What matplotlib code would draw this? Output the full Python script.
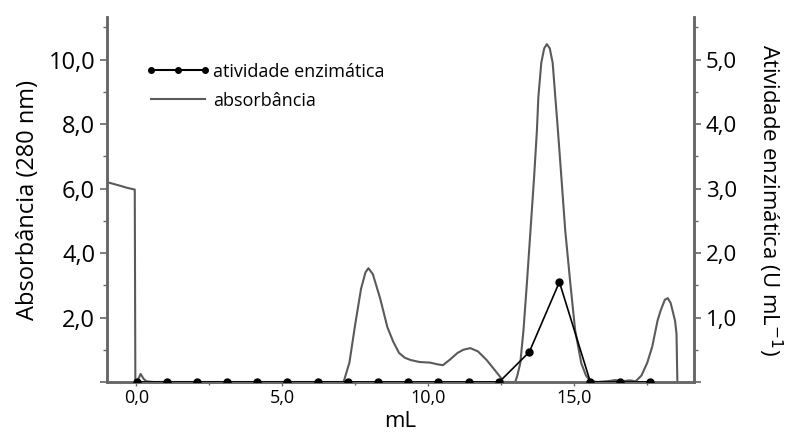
import matplotlib.pyplot as plt
from matplotlib.ticker import FuncFormatter, MultipleLocator
from matplotlib.lines import Line2D

plt.rcParams['font.family'] = ['Open Sans', 'DejaVu Sans']

# absorbance trace (mL, A280)
abs_ml = [-1.0, -0.6, -0.3, -0.05, -0.03, 0.05, 0.15, 0.25, 0.35, 0.6,
          7.1, 7.3, 7.5, 7.7, 7.85, 7.95, 8.1, 8.35, 8.6, 8.8, 9.0, 9.2, 9.4,
          9.7, 10.07, 10.3, 10.5, 10.75, 11.0, 11.2, 11.44, 11.7, 12.0, 12.25,
          12.47, 12.57, 12.98, 13.05, 13.15, 13.26, 13.38, 13.5, 13.62, 13.72,
          13.77, 13.87, 13.97, 14.06, 14.16, 14.26, 14.35, 14.44, 14.57, 14.69,
          14.86, 15.03, 15.24, 15.4, 15.55, 15.8,
          16.2, 16.4, 16.6, 16.9, 17.1, 17.3, 17.5, 17.67, 17.85, 17.95, 18.1,
          18.2, 18.3, 18.45, 18.5, 18.53]
abs_val = [6.2, 6.1, 6.02, 5.97, 0.0, 0.05, 0.25, 0.1, 0.02, 0.0,
           0.0, 0.6, 1.8, 2.9, 3.4, 3.53, 3.35, 2.6, 1.7, 1.25, 0.9, 0.75, 0.68,
           0.62, 0.6, 0.55, 0.52, 0.7, 0.9, 1.0, 1.05, 0.95, 0.68, 0.4,
           0.15, 0.0, 0.0, 0.2, 0.58, 1.6, 3.1, 4.7, 6.3, 7.8,
           8.84, 9.9, 10.35, 10.48, 10.35, 9.9, 8.84, 7.8, 6.2, 4.7,
           3.1, 1.6, 0.58, 0.2, 0.03, 0.0,
           0.03, 0.06, 0.02, 0.05, 0.02, 0.2, 0.6, 1.1, 1.9, 2.2, 2.55,
           2.6, 2.45, 1.9, 1.5, 0.0]

# enzyme activity fractions (mL, U/mL)
act_ml = [0.03, 1.06, 2.09, 3.12, 4.14, 5.17, 6.23, 7.26, 8.29, 9.32,
          10.34, 11.4, 12.43, 13.46, 14.49, 15.55, 16.58, 17.6]
act_val = [0, 0, 0, 0, 0, 0, 0, 0, 0, 0, 0, 0, 0, 0.465, 1.55, 0, 0, 0]

fig = plt.figure(figsize=(7.91, 4.38), dpi=100)
ax = fig.add_axes([0.1353, 0.1279, 0.8774 - 0.1353, 0.961 - 0.1279])
ax2 = ax.twinx()

spine_c = '#666666'
ax.plot(abs_ml, abs_val, color='#5a5a5a', lw=1.5, zorder=2)
ax2.plot(act_ml, act_val, color='black', lw=1.2, marker='o', ms=5, zorder=3)

ax.set_xlim(-1.0, 19.1)
ax.set_ylim(0, 11.32)
ax2.set_ylim(0, 5.66)


def fmt_comma(v, p):
    return f"{v:.1f}".replace('.', ',')


def fmt_no_zero(v, p):
    return '' if v == 0 else fmt_comma(v, p)


ax.xaxis.set_major_locator(MultipleLocator(5))
ax.xaxis.set_minor_locator(MultipleLocator(2.5))
ax.yaxis.set_major_locator(MultipleLocator(2))
ax.yaxis.set_minor_locator(MultipleLocator(1))
ax2.yaxis.set_major_locator(MultipleLocator(1))
ax2.yaxis.set_minor_locator(MultipleLocator(0.5))
ax.xaxis.set_major_formatter(FuncFormatter(fmt_comma))
ax.yaxis.set_major_formatter(FuncFormatter(fmt_no_zero))
ax2.yaxis.set_major_formatter(FuncFormatter(fmt_no_zero))

for a in (ax, ax2):
    a.spines['top'].set_visible(False)
    for s in ('left', 'right', 'bottom'):
        a.spines[s].set_color(spine_c)
        a.spines[s].set_linewidth(1.8)

ax.tick_params(axis='y', which='major', labelsize=17, length=5, color=spine_c, width=1.2)
ax.tick_params(axis='y', which='minor', length=3, color=spine_c, width=1)
ax2.tick_params(axis='y', which='major', labelsize=16, length=5, color=spine_c, width=1.2)
ax2.tick_params(axis='y', which='minor', length=3, color=spine_c, width=1)
ax.tick_params(axis='x', which='major', labelsize=13, length=3, color=spine_c, width=1, pad=2)
ax.tick_params(axis='x', which='minor', length=2, color=spine_c, width=1)

ax.set_ylabel('Absorbância (280 nm)', fontsize=17, labelpad=6)
ax2.set_ylabel('Atividade enzimática (U mL$^{-1}$)', fontsize=16, rotation=270, labelpad=34)
ax.set_xlabel('mL', fontsize=16, labelpad=3)

handles = [Line2D([], [], color='black', lw=1.5, marker='o', ms=4),
           Line2D([], [], color='#5a5a5a', lw=1.5)]
leg = ax.legend(handles, ['atividade enzimática', 'absorbância'], loc='upper left',
                bbox_to_anchor=(0.066, 0.875), frameon=False, numpoints=3,
                borderpad=0, borderaxespad=0,
                handlelength=3.6, handletextpad=0.15, fontsize=13, labelspacing=0.6)

fig.savefig('out.png', dpi=100)
